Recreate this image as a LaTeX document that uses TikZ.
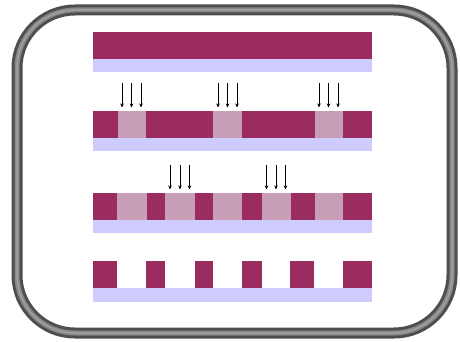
\documentclass[tikz,border=0pt]{standalone}
\usetikzlibrary{arrows.meta}
\definecolor{wafer}{RGB}{154,44,96}
\definecolor{exposed}{RGB}{200,158,182}
\definecolor{substrate}{RGB}{206,204,252}
\definecolor{tubedark}{RGB}{78,78,78}
\definecolor{tubemid}{RGB}{135,135,135}
\definecolor{tubelight}{RGB}{160,160,160}
\tikzset{
  film/.style={fill=wafer},
  lit/.style={fill=exposed},
  base/.style={fill=substrate},
  ray/.style={draw=black, line width=0.7pt, -{Stealth[length=4pt,width=3.5pt]}}
}
\begin{document}
\begin{tikzpicture}[x=1pt,y=-1pt]
\useasboundingbox (0,0) rectangle (460,342);
\fill[white] (0,0) rectangle (460,342);

% rounded tube frame
\draw[tubedark, line width=11pt, rounded corners=58pt] (17,10) rectangle (452,333);
\draw[tubemid, line width=5pt, rounded corners=58pt] (17,10) rectangle (452,333);
\draw[tubelight, line width=1.5pt, rounded corners=58pt] (17,10) rectangle (452,333);

% row 1: unexposed film on substrate
\fill[film] (93,32) rectangle (372,59);
\fill[base] (93,59) rectangle (372,72);

% row 2: first exposure
\fill[film] (93,111) rectangle (372,138);
\foreach \a/\b in {118/146, 213/242, 315/343}
  \fill[lit] (\a,111) rectangle (\b,138);
\fill[base] (93,138) rectangle (372,151);
\foreach \x in {122,131.5,141, 218,227.5,237, 319,328.5,338}
  \draw[ray] (\x,83) -- (\x,107.5);

% row 3: second exposure
\fill[film] (93,193) rectangle (372,220);
\foreach \a/\b in {117/147, 165/195, 213/242, 262/291, 315/343}
  \fill[lit] (\a,193) rectangle (\b,220);
\fill[base] (93,220) rectangle (372,233);
\foreach \x in {170,180,189.5, 266.5,276,285.5}
  \draw[ray] (\x,165) -- (\x,189.5);

% row 4: developed pattern
\foreach \a/\b in {93/117, 146/165, 195/213, 242/262, 290/314, 343/372}
  \fill[film] (\a,261) rectangle (\b,288);
\fill[base] (93,288) rectangle (372,302);
\end{tikzpicture}
\end{document}
